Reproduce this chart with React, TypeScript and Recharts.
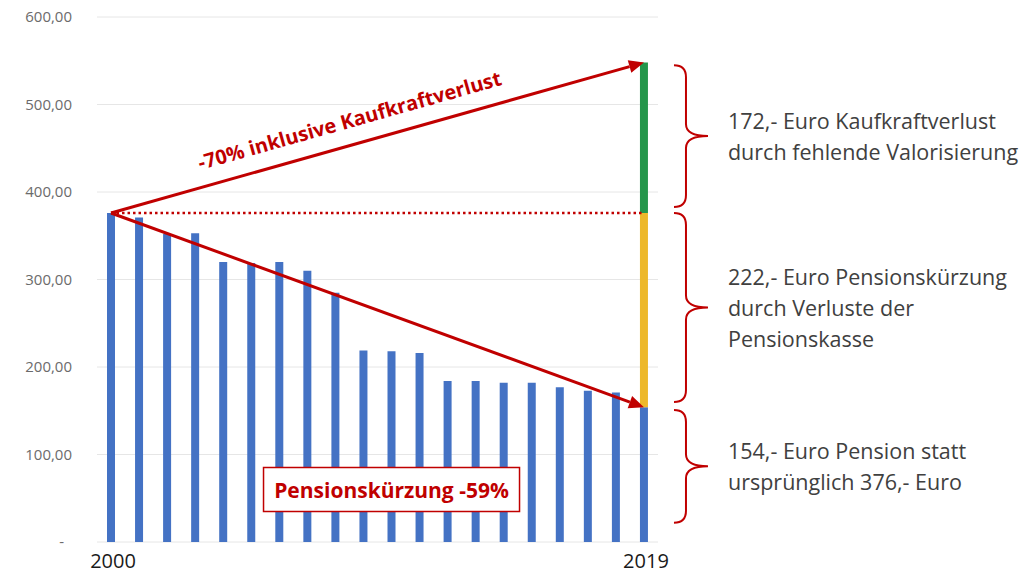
import React from "react"
import { Bar, CartesianGrid, ComposedChart, ReferenceDot, ReferenceLine, XAxis, YAxis } from "recharts"

const years = [
  "2000", "2001", "2002", "2003", "2004", "2005", "2006", "2007", "2008", "2009",
  "2010", "2011", "2012", "2013", "2014", "2015", "2016", "2017", "2018", "2019",
]
const pension = [376, 371, 352, 353, 320, 319, 320, 310, 285, 219, 218, 216, 184, 184, 182, 182, 177, 173, 171, 154]
const kuerzung = [null, null, null, null, null, null, null, null, null, null, null, null, null, null, null, null, null, null, null, 222]
const kaufkraft = [null, null, null, null, null, null, null, null, null, null, null, null, null, null, null, null, null, null, null, 172]
const yTicks = [0, 100, 200, 300, 400, 500, 600]
const shownYears = ["2000", "2019"]

const arrowUpLabel = "-70% inklusive Kaufkraftverlust"
const boxLabel = "Pensionskürzung -59%"
const calloutTop = ["172,- Euro Kaufkraftverlust", "durch fehlende Valorisierung"]
const calloutMid = ["222,- Euro Pensionskürzung", "durch Verluste der", "Pensionskasse"]
const calloutLow = ["154,- Euro Pension statt", "ursprünglich 376,- Euro"]

const data = years.map((year, i) => ({
  year,
  pension: pension[i],
  kuerzung: kuerzung[i],
  kaufkraft: kaufkraft[i],
}))

const RED = "#c00000"
const FONT = "Open Sans"

function ArrowShape(props: any) {
  const { x1, y1, x2, y2, label } = props
  const ang = Math.atan2(y2 - y1, x2 - x1)
  const cos = Math.cos(ang)
  const sin = Math.sin(ang)
  const len = 15
  const w = 6.5
  const bx = x2 - len * cos
  const by = y2 - len * sin
  const t = 0.46
  const lx = x1 + (x2 - x1) * t
  const ly = y1 + (y2 - y1) * t
  return (
    <g>
      <line x1={x1} y1={y1} x2={bx} y2={by} stroke={RED} strokeWidth={3} />
      <polygon
        points={`${x2},${y2} ${bx - w * sin},${by + w * cos} ${bx + w * sin},${by - w * cos}`}
        fill={RED}
      />
      {label && (
        <text
          transform={`translate(${lx},${ly}) rotate(${(ang * 180) / Math.PI})`}
          x={0}
          y={-17}
          textAnchor="middle"
          fill={RED}
          fontSize={20}
          fontWeight={700}
          fontFamily={FONT}
        >
          {label}
        </text>
      )}
    </g>
  )
}

function BraceShape(props: any) {
  const { x1, y1, y2, lines } = props
  const top = Math.min(y1, y2)
  const bot = Math.max(y1, y2)
  const mid = (top + bot) / 2
  const xe = x1 + 30
  const xs = x1 + 42
  const xt = x1 + 64
  const r = 12
  const d = `M${xe},${top} Q${xs},${top} ${xs},${top + r} L${xs},${mid - r} Q${xs},${mid} ${xt},${mid} Q${xs},${mid} ${xs},${mid + r} L${xs},${bot - r} Q${xs},${bot} ${xe},${bot}`
  return (
    <g>
      <path d={d} fill="none" stroke={RED} strokeWidth={2} />
      {lines.map((line: string, i: number) => (
        <text
          key={line}
          x={x1 + 84}
          y={mid + (i - (lines.length - 1) / 2) * 31}
          dominantBaseline="central"
          fill="#404040"
          fontSize={21.5}
          fontFamily={FONT}
        >
          {line}
        </text>
      ))}
    </g>
  )
}

function BoxShape(props: any) {
  const { cx, cy } = props
  return (
    <g>
      <rect x={cx - 128} y={cy - 22} width={256} height={44} fill="#fff" stroke={RED} strokeWidth={1.5} />
      <text x={cx} y={cy} textAnchor="middle" dominantBaseline="central" fill={RED} fontSize={21} fontWeight={700} fontFamily={FONT}>
        {boxLabel}
      </text>
    </g>
  )
}

function YTick(props: any) {
  const { x, y, payload } = props
  const v = payload.value
  return (
    <text x={v === 0 ? x - 8 : x} y={y} dy={5} textAnchor="end" fill="#6b6b6b" fontSize={15} fontFamily={FONT}>
      {v === 0 ? "-" : v.toFixed(2).replace(".", ",")}
    </text>
  )
}

function XTick(props: any) {
  const { x, y, payload } = props
  if (!shownYears.includes(payload.value)) return null
  return (
    <text x={x + 2} y={y + 26} textAnchor="middle" fill="#1a1a1a" fontSize={20} fontFamily={FONT}>
      {payload.value}
    </text>
  )
}

export default function App() {
  return (
    <div style={{ position: "absolute", top: 0, left: 0, width: 1025, height: 573, background: "#fff" }}>
      <ComposedChart width={1025} height={573} data={data} margin={{ top: 17, right: 367, left: 0, bottom: 0 }}>
        <CartesianGrid vertical={false} stroke="#e6e6e6" />
        <XAxis
          dataKey="year"
          interval={0}
          height={31}
          axisLine={false}
          tickLine={false}
          tickSize={0}
          tickMargin={0}
          tick={<XTick />}
        />
        <YAxis
          width={97}
          domain={[0, 600]}
          ticks={yTicks}
          axisLine={false}
          tickLine={false}
          tickSize={0}
          tickMargin={25}
          tick={<YTick />}
        />
        <Bar dataKey="pension" stackId="a" fill="#4472c4" barSize={8} isAnimationActive={false} />
        <Bar dataKey="kuerzung" stackId="a" fill="#edb82a" barSize={8} isAnimationActive={false} />
        <Bar dataKey="kaufkraft" stackId="a" fill="#25964b" barSize={8} isAnimationActive={false} />
        <ReferenceLine
          segment={[{ x: "2000", y: 376 }, { x: "2019", y: 376 }]}
          stroke={RED}
          strokeWidth={2.5}
          strokeDasharray="2.5 3"
          ifOverflow="visible"
        />
        <ReferenceLine
          segment={[{ x: "2000", y: 376 }, { x: "2019", y: 548 }]}
          ifOverflow="visible"
          shape={(p: any) => <ArrowShape {...p} label={arrowUpLabel} />}
        />
        <ReferenceLine
          segment={[{ x: "2000", y: 376 }, { x: "2019", y: 154 }]}
          ifOverflow="visible"
          shape={(p: any) => <ArrowShape {...p} />}
        />
        <ReferenceLine
          segment={[{ x: "2019", y: 545 }, { x: "2019", y: 383 }]}
          ifOverflow="visible"
          shape={(p: any) => <BraceShape {...p} lines={calloutTop} />}
        />
        <ReferenceLine
          segment={[{ x: "2019", y: 376 }, { x: "2019", y: 160 }]}
          ifOverflow="visible"
          shape={(p: any) => <BraceShape {...p} lines={calloutMid} />}
        />
        <ReferenceLine
          segment={[{ x: "2019", y: 151 }, { x: "2019", y: 22 }]}
          ifOverflow="visible"
          shape={(p: any) => <BraceShape {...p} lines={calloutLow} />}
        />
        <ReferenceDot x="2010" y={60} ifOverflow="visible" shape={(p: any) => <BoxShape {...p} />} />
      </ComposedChart>
    </div>
  )
}
